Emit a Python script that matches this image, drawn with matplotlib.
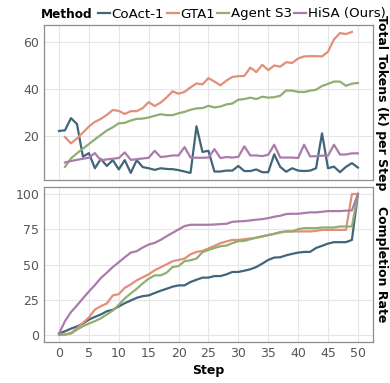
import matplotlib
matplotlib.use("Agg")
import matplotlib.pyplot as plt
import numpy as np

# ---- data ----
methods = ["CoAct-1", "GTA1", "Agent S3", "HiSA (Ours)"]
colors = ["#41657a", "#e38f78", "#90ae72", "#aa7bab"]

steps_all = list(range(0, 51))
steps_from1 = list(range(1, 51))
steps_gta = list(range(1, 50))

tok_coact = [22, 22.3, 27.5, 25, 11, 12.5, 6, 10, 7, 9.5,
             5.5, 9.5, 4, 9.5, 6.5, 6, 5.3, 6, 5.7, 5.6,
             5.2, 4.6, 4, 24, 13, 13.5, 4.6, 4.6, 5, 5,
             7, 4.8, 4.8, 5.5, 4.3, 4.3, 12, 6.6, 4.5, 6,
             5, 4.8, 5, 6, 21, 6, 6.7, 4.3, 6.6, 8.2, 6.3]
tok_gta = [19.4, 16.7, 18.8, 21.3, 23.9, 25.9, 27.2, 28.9, 31,
           30.6, 29.3, 30.5, 30.5, 31.8, 34.4, 32.7, 34.2, 36.4, 39,
           38, 38.8, 40.7, 42.4, 42, 44.7, 43.2, 41.6, 43.6, 45.2,
           45.5, 45.6, 49.2, 47.3, 50.4, 48.1, 50.1, 49.6, 51.5, 51.2,
           53.1, 54, 54.1, 54.1, 54, 56, 61.3, 64, 63.6, 64.5]
tok_s3 = [6.6, 10.2, 12.4, 14.4, 16.4, 18.4, 20.3, 22.2, 23.6,
          25.3, 25.5, 26.5, 27.2, 27.3, 27.8, 28.5, 29.2, 28.8, 28.8,
          29.6, 30.2, 31.1, 31.7, 31.8, 32.8, 32.1, 32.5, 33.4, 33.8,
          35.4, 35.7, 36.3, 35.7, 36.7, 36.3, 36.5, 37.1, 39.4, 39.3,
          38.8, 38.7, 39.3, 39.7, 41.3, 42.2, 43.2, 43.2, 41.4, 42.3, 42.6]
tok_hisa = [8.5, 9.1, 9.6, 10.1, 10.5, 12.5, 9.4, 9.8, 10.1,
            10.4, 12.8, 9.6, 9.9, 10.2, 10.5, 13.5, 10.8, 11.1, 11.5,
            11.5, 15.1, 10.6, 10.5, 10.5, 10.6, 14.2, 10.4, 10.8, 10.6,
            10.9, 15.4, 11.5, 11.5, 11.2, 11.8, 16.1, 10.6, 10.6, 10.6,
            10.4, 16.1, 11.1, 11.2, 11.4, 11.4, 16.1, 11.9, 11.9, 12.4, 12.4]

cr_coact = [1.2, 2.8, 4.7, 6.2, 8.3, 11.1, 13, 14.7, 17, 18,
            20.4, 22.7, 24.6, 26.5, 27.7, 28.2, 29.9, 31.5, 32.9, 34.4,
            35.3, 35.3, 37.7, 39.3, 40.8, 40.8, 41.9, 41.9, 43.1, 44.8,
            44.8, 45.7, 46.7, 48.3, 50.7, 53.3, 55, 55.2, 56.6, 57.6,
            58.5, 59, 59, 61.8, 63.3, 64.9, 65.9, 65.9, 65.9, 67.5, 100]
cr_gta = [0.5, 0.5, 1.7, 4.7, 8.8, 12.6, 18.2, 20.6, 22.5, 28.2,
          29.1, 33.6, 36, 38.9, 41, 43.1, 46, 48.1, 50.2, 52.4,
          53.3, 54.3, 57.3, 59, 59.7, 61.4, 63.3, 65.2, 66.4, 67.5,
          67.5, 68, 68.5, 68.9, 69.9, 70.9, 71.8, 72.7, 73.5, 73.5,
          73.5, 73.5, 73.5, 73.9, 74.6, 74.6, 74.6, 74.6, 74.6, 100, 100]
cr_s3 = [0.2, 0.5, 1.2, 4, 6.4, 8.3, 10, 12, 14.7, 17.5,
         21.6, 26.1, 29.6, 32.9, 36.7, 40, 42.4, 42.4, 44.3, 48.3,
         49, 52.4, 53.1, 54.3, 58.8, 60.4, 61.8, 63, 63.5, 65.2,
         66.6, 66.8, 68, 69.2, 70.1, 70.9, 71.8, 73, 73.5, 73.5,
         75.1, 75.8, 75.8, 75.8, 76.3, 76.3, 76.3, 77, 77, 77, 100]
cr_hisa = [1.2, 10, 16.4, 21.1, 26.1, 31, 35.5, 40.5, 44.3, 48.3,
           51.7, 55.2, 58.5, 59.5, 62.1, 64.2, 65.4, 67.5, 70.1, 72.5,
           74.9, 77.3, 78.2, 78.2, 78.2, 78.2, 78.4, 78.7, 78.9, 80.3,
           80.6, 80.8, 81.3, 81.8, 82.2, 82.9, 83.9, 84.6, 85.8, 86,
           86, 86.5, 87, 87, 87.4, 87.9, 87.9, 87.9, 88.2, 88.4, 100]

tok_x = [steps_all, steps_gta, steps_from1, steps_from1]
tok_y = [tok_coact, tok_gta, tok_s3, tok_hisa]
cr_y = [cr_coact, cr_gta, cr_s3, cr_hisa]

plt.rcParams["font.family"] = "DejaVu Sans"

fig, (ax1, ax2) = plt.subplots(2, 1, sharex=True, figsize=(3.9, 3.83), dpi=100)
fig.subplots_adjust(left=0.113, right=0.956, top=0.935, bottom=0.107, hspace=0.045)

for i in range(4):
    ax1.plot(tok_x[i], tok_y[i], color=colors[i], lw=1.6, label=methods[i])
    ax2.plot(steps_all, cr_y[i], color=colors[i], lw=1.6)

ax1.set_yticks([20, 40, 60])
ax2.set_yticks([0, 25, 50, 75, 100])
ax2.set_xticks(range(0, 51, 5))

for ax in (ax1, ax2):
    ax.set_facecolor("white")
    ax.grid(True, color="#e6e6e6", lw=0.8)
    ax.set_axisbelow(True)
    for s in ax.spines.values():
        s.set_color("#8c8c8c")
        s.set_linewidth(0.9)
    ax.tick_params(length=0, labelsize=9, labelcolor="#555555", pad=3.5)
    ax.yaxis.set_label_position("right")

ax1.set_ylabel("Total Tokens (k) per Step", rotation=270, fontsize=9,
               fontweight="bold", labelpad=11)
ax2.set_ylabel("Completion Rate", rotation=270, fontsize=9,
               fontweight="bold", labelpad=11)
ax2.set_xlabel("Step", fontsize=9, fontweight="bold", labelpad=3)

fig.text(41 / 390, 1 - 14 / 383, "Method", fontsize=8.7, fontweight="bold",
         ha="left", va="center")
handles, labels = ax1.get_legend_handles_labels()
fig.legend(handles, labels, loc="center left",
           bbox_to_anchor=(98 / 390, 1 - 14 / 383), ncol=4, frameon=False,
           fontsize=9.6, handlelength=0.9, handletextpad=0.1,
           columnspacing=0.2, borderpad=0, borderaxespad=0)

fig.savefig("out.png", dpi=100)
